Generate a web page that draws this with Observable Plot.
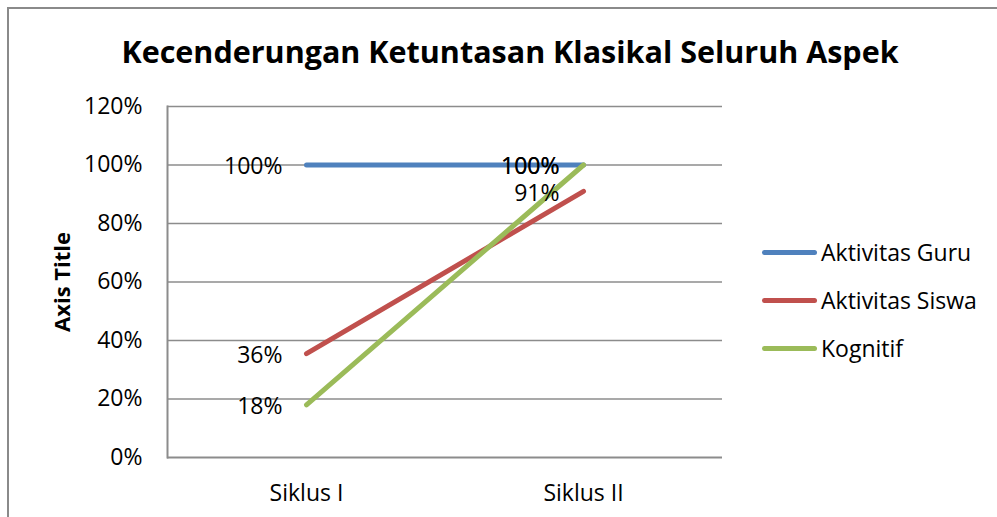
<!DOCTYPE html>
<html>
<head>
<meta charset="utf-8">
<script src="https://cdn.jsdelivr.net/npm/d3@7"></script>
<script src="https://cdn.jsdelivr.net/npm/@observablehq/plot@0.6"></script>
<style>
  html, body { margin: 0; padding: 0; background: #fff; overflow: hidden; }
  #chart { position: relative; width: 997px; height: 517px; overflow: hidden; font-family: "Open Sans", sans-serif; color: #000; }
  #border { position: absolute; left: 7px; top: 7px; width: 1100px; height: 700px; border-top: 2px solid #8a8a8a; border-left: 2px solid #8a8a8a; box-sizing: border-box; }
  #title { position: absolute; left: 0; top: 36px; width: 1020px; text-align: center; font-weight: bold; font-size: 30.5px; line-height: 30.5px; white-space: nowrap; }
  #plot { position: absolute; left: 0; top: 90px; }
  #legend { position: absolute; left: 762px; top: 0; }
  .item { position: absolute; left: 0; display: flex; align-items: center; height: 30px; white-space: nowrap; font-size: 23px; }
  .swatch { width: 55px; height: 5px; border-radius: 3px; margin-right: 4px; }
</style>
</head>
<body>
<div id="chart">
  <div id="border"></div>
  <div id="title">Kecenderungan Ketuntasan Klasikal Seluruh Aspek</div>
  <div id="plot"></div>
  <div id="legend"></div>
</div>
<script>
const categories = ["Siklus I", "Siklus II"];
const seriesNames = ["Aktivitas Guru", "Aktivitas Siswa", "Kognitif"];
const guru = [100, 100];
const siswa = [35.5, 91];
const kognitif = [18, 100];
const colors = ["#4F81BD", "#C0504D", "#9BBB59"];
const yTicks = [0, 20, 40, 60, 80, 100, 120];
const axisTitle = "Axis Title";

const seriesValues = [guru, siswa, kognitif];
const data = seriesNames.flatMap((s, i) =>
  categories.map((c, j) => ({series: s, cat: c, value: seriesValues[i][j]}))
);

const chart = Plot.plot({
  width: 997,
  height: 427,
  marginTop: 16,
  marginBottom: 60,
  marginLeft: 167,
  marginRight: 275,
  x: {type: "point", domain: categories, padding: 0.5, label: null},
  y: {domain: [0, 120], label: null},
  color: {domain: seriesNames, range: colors},
  style: {fontFamily: "Open Sans, sans-serif", fontSize: "23px", color: "#000", background: "transparent", overflow: "visible"},
  marks: [
    Plot.ruleY(yTicks.slice(1), {stroke: "#8c8c8c", strokeWidth: 1.4}),
    Plot.ruleY([0], {stroke: "#8c8c8c", strokeWidth: 2}),
    Plot.frame({anchor: "left", stroke: "#8c8c8c", strokeWidth: 2}),
    Plot.axisY({ticks: yTicks, tickSize: 0, tickPadding: 25, tickFormat: d => d + "%", fontSize: 23, label: null}),
    Plot.axisX({tickSize: 0, tickPadding: 27, fontSize: 23, label: null}),
    Plot.lineY(data, {x: "cat", y: "value", stroke: "series", strokeWidth: 5, strokeLinecap: "round"}),
    Plot.text(data, {x: "cat", y: "value", text: d => Math.round(d.value) + "%", textAnchor: "end", dx: -24, dy: 2, fontSize: 23, fill: "#000"}),
    Plot.text([axisTitle], {frameAnchor: "left", textAnchor: "middle", rotate: -90, dx: -105, fontWeight: "bold", fontSize: 22, fill: "#000"})
  ]
});
document.getElementById("plot").appendChild(chart);

const legend = document.getElementById("legend");
const rowY = [252, 300, 348];
seriesNames.forEach((s, i) => {
  const item = document.createElement("div");
  item.className = "item";
  item.style.top = (rowY[i] - 15) + "px";
  const sw = document.createElement("div");
  sw.className = "swatch";
  sw.style.background = colors[i];
  const tx = document.createElement("span");
  tx.textContent = s;
  item.appendChild(sw);
  item.appendChild(tx);
  legend.appendChild(item);
});
</script>
</body>
</html>
